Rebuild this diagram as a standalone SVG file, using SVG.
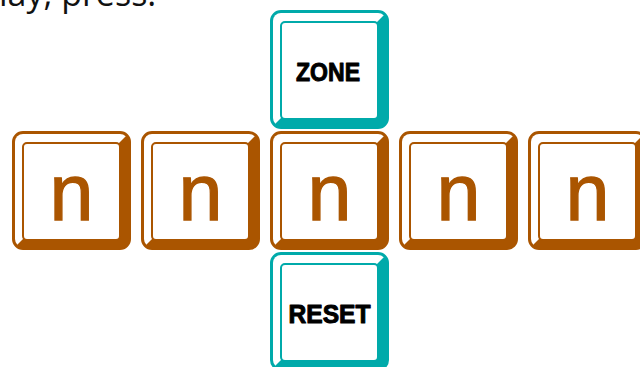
<svg xmlns="http://www.w3.org/2000/svg" width="640" height="367" viewBox="0 0 640 367">
<defs>
<style>
.brown{color:#AA5500}
.teal{color:#00AAAA}
.n{font-family:"Liberation Sans",Arial,sans-serif;font-size:79px;fill:#AA5500;stroke:#AA5500;stroke-width:1.3;text-anchor:middle}
.lbl{font-family:"Liberation Sans",Arial,sans-serif;font-weight:bold;font-size:26px;fill:#000;stroke:#000;stroke-width:1;stroke-linejoin:round;text-anchor:middle}
.cap{font-family:"Open Sans",sans-serif;font-size:34px;fill:#111}
</style>
<clipPath id="bc" clipPathUnits="userSpaceOnUse"><polygon points="-2,-2 121,-2 108,11 10,109 -2,121"/></clipPath>
<g id="key">
<rect x="1" y="1" width="117" height="117" rx="10" fill="currentColor" stroke="currentColor" stroke-width="2"/>
<rect x="3" y="3" width="113" height="113" rx="8" fill="#fff" clip-path="url(#bc)"/>
<rect x="11" y="12" width="97" height="97" rx="4" fill="#fff" stroke="currentColor" stroke-width="2"/>
</g>
</defs>
<text class="cap" x="-1" y="6">lay, press:</text>
<g id="connectors"/>
<g id="key-zone" class="teal" transform="translate(270,10)"><use href="#key"/><text class="lbl" x="58" y="71" textLength="64" lengthAdjust="spacingAndGlyphs">ZONE</text></g>
<g id="key-n1" class="brown" transform="translate(12,131)"><use href="#key"/><text class="n" x="59.5" y="89">n</text></g>
<g id="key-n2" class="brown" transform="translate(141,131)"><use href="#key"/><text class="n" x="59.5" y="89">n</text></g>
<g id="key-n3" class="brown" transform="translate(270,131)"><use href="#key"/><text class="n" x="59.5" y="89">n</text></g>
<g id="key-n4" class="brown" transform="translate(399,131)"><use href="#key"/><text class="n" x="59.5" y="89">n</text></g>
<g id="key-n5" class="brown" transform="translate(528,131)"><use href="#key"/><text class="n" x="59.5" y="89">n</text></g>
<g id="key-reset" class="teal" transform="translate(270,252)"><use href="#key"/><text class="lbl" x="59.5" y="71" textLength="82" lengthAdjust="spacingAndGlyphs">RESET</text></g>
</svg>
